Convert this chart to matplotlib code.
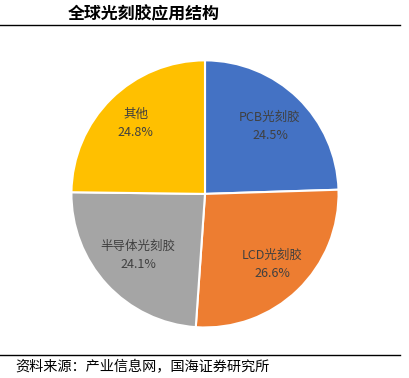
import matplotlib
matplotlib.use("Agg")
import matplotlib.pyplot as plt
from matplotlib.lines import Line2D
import numpy as np

plt.rcParams["font.family"] = ["Noto Sans CJK SC", "DejaVu Sans"]

# data
labels = ["PCB光刻胶", "LCD光刻胶", "半导体光刻胶", "其他"]
shares = [24.5, 26.6, 24.1, 24.8]
colors = ["#4472C4", "#ED7D31", "#A5A5A5", "#FFC000"]

title = "全球光刻胶应用结构"
source = "资料来源：产业信息网，国海证券研究所"

fig = plt.figure(figsize=(4.10, 3.78), dpi=100)

# header / footer
fig.text(0.166, 0.962, title, fontsize=12.2, fontweight="bold", va="center", ha="left")
fig.add_artist(Line2D([0.0, 0.976], [0.934, 0.934], color="black", lw=1.0))
fig.add_artist(Line2D([0.0, 0.976], [0.061, 0.061], color="black", lw=1.0))
fig.text(0.037, 0.028, source, fontsize=10.2, va="center", ha="left")

# pie
ax = fig.add_axes([0.5 - 0.329, 0.487 - 0.357, 0.658, 0.714])
wedges, _ = ax.pie(shares, colors=colors, startangle=90, counterclock=False,
                   wedgeprops=dict(edgecolor="white", linewidth=1.5))
ax.set_xlim(-1.01, 1.01)
ax.set_ylim(-1.01, 1.01)
ax.set_aspect("equal")

dists = [0.70, 0.73, 0.68, 0.74]
for w, lab, val, d in zip(wedges, labels, shares, dists):
    ang = np.deg2rad((w.theta1 + w.theta2) / 2)
    x, y = d * np.cos(ang), d * np.sin(ang)
    ax.text(x, y, f"{lab}\n{val:.1f}%", ha="center", va="center",
            fontsize=9, color="#404040", linespacing=1.5)

fig.savefig("out.png", dpi=100)
